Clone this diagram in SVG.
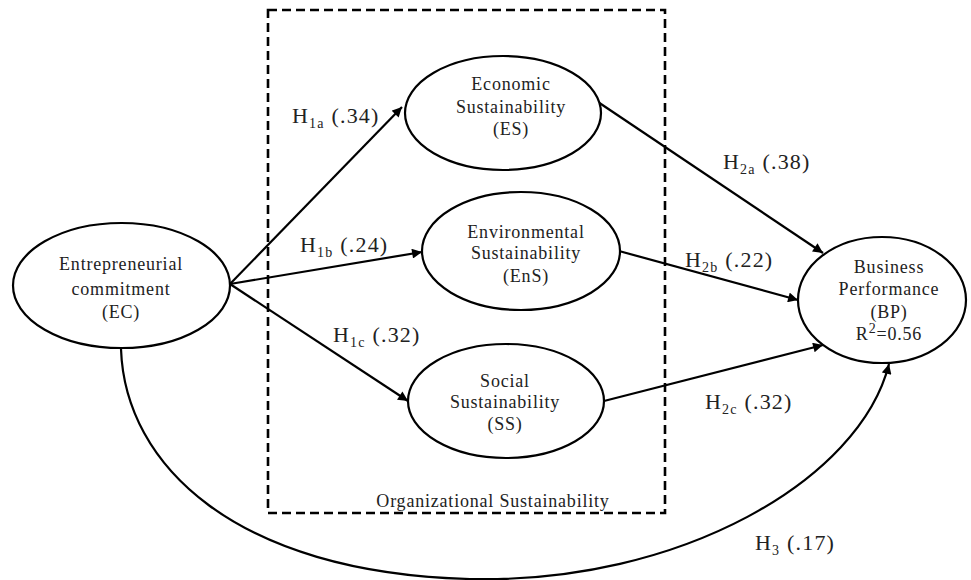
<svg xmlns="http://www.w3.org/2000/svg" width="971" height="580" viewBox="0 0 971 580">
<style>
.node{fill:#fff;stroke:#000;stroke-width:2.2}
.nt{font-family:"Liberation Serif",serif;font-size:18px;letter-spacing:0.8px;fill:#222;text-anchor:middle}
.lb{font-family:"Liberation Serif",serif;font-size:22px;letter-spacing:1.2px;fill:#222}
.sub{font-size:14px}
.edge{fill:none;stroke:#000;stroke-width:2.2}
</style>
<defs>
<marker id="ah" viewBox="0 0 10 10" refX="10" refY="5" markerWidth="5" markerHeight="4.5" orient="auto" markerUnits="strokeWidth">
<path d="M0,0 L10,5 L0,10 z" fill="#000"/>
</marker>
</defs>
<rect x="268" y="10" width="397" height="503" fill="none" stroke="#000" stroke-width="2.6" stroke-dasharray="9,5"/>
<text x="493" y="507" class="nt" style="font-size:18px">Organizational Sustainability</text>
<g id="connectors">
<line class="edge" x1="230" y1="284" x2="402" y2="107" marker-end="url(#ah)"/>
<line class="edge" x1="230" y1="284" x2="422" y2="252" marker-end="url(#ah)"/>
<line class="edge" x1="230" y1="284" x2="408" y2="401" marker-end="url(#ah)"/>
<line class="edge" x1="598" y1="102" x2="823" y2="253" marker-end="url(#ah)"/>
<line class="edge" x1="619" y1="251" x2="798" y2="300" marker-end="url(#ah)"/>
<line class="edge" x1="604" y1="401" x2="823" y2="345" marker-end="url(#ah)"/>
<path class="edge" d="M121,349 C125,465 235,573 470,579 C680,584 860,480 889,364" marker-end="url(#ah)"/>
</g>
<g id="EC">
<ellipse class="node" cx="121.5" cy="285.5" rx="108.5" ry="62.5"/>
<text class="nt" x="121" y="270">Entrepreneurial</text>
<text class="nt" x="121" y="295">commitment</text>
<text class="nt" x="121" y="318">(EC)</text>
</g>
<g id="ES">
<ellipse class="node" cx="503" cy="113" rx="98" ry="57"/>
<text class="nt" x="511" y="90">Economic</text>
<text class="nt" x="511" y="113">Sustainability</text>
<text class="nt" x="511" y="135">(ES)</text>
</g>
<g id="EnS">
<ellipse class="node" cx="521" cy="251" rx="99" ry="59"/>
<text class="nt" x="526" y="238">Environmental</text>
<text class="nt" x="526" y="259">Sustainability</text>
<text class="nt" x="526" y="282">(EnS)</text>
</g>
<g id="SS">
<ellipse class="node" cx="506" cy="401" rx="98" ry="57"/>
<text class="nt" x="505" y="387">Social</text>
<text class="nt" x="505" y="408">Sustainability</text>
<text class="nt" x="505" y="430">(SS)</text>
</g>
<g id="BP">
<ellipse class="node" cx="882" cy="300" rx="84" ry="63"/>
<text class="nt" x="889" y="273">Business</text>
<text class="nt" x="889" y="295">Performance</text>
<text class="nt" x="889" y="318">(BP)</text>
<text class="nt" x="889" y="340">R<tspan class="sub" dy="-7">2</tspan><tspan dy="7">=0.56</tspan></text>
</g>
<g id="labels">
<text class="lb" x="292" y="123">H<tspan class="sub" dy="5">1a</tspan><tspan dy="-5"> (.34)</tspan></text>
<text class="lb" x="300" y="252">H<tspan class="sub" dy="5">1b</tspan><tspan dy="-5">  (.24)</tspan></text>
<text class="lb" x="333" y="342">H<tspan class="sub" dy="5">1c</tspan><tspan dy="-5"> (.32)</tspan></text>
<text class="lb" x="723" y="169">H<tspan class="sub" dy="5">2a</tspan><tspan dy="-5"> (.38)</tspan></text>
<text class="lb" x="685" y="267">H<tspan class="sub" dy="5">2b</tspan><tspan dy="-5"> (.22)</tspan></text>
<text class="lb" x="705" y="409">H<tspan class="sub" dy="5">2c</tspan><tspan dy="-5"> (.32)</tspan></text>
<text class="lb" x="755" y="550">H<tspan class="sub" dy="5">3</tspan><tspan dy="-5"> (.17)</tspan></text>
</g>
</svg>
